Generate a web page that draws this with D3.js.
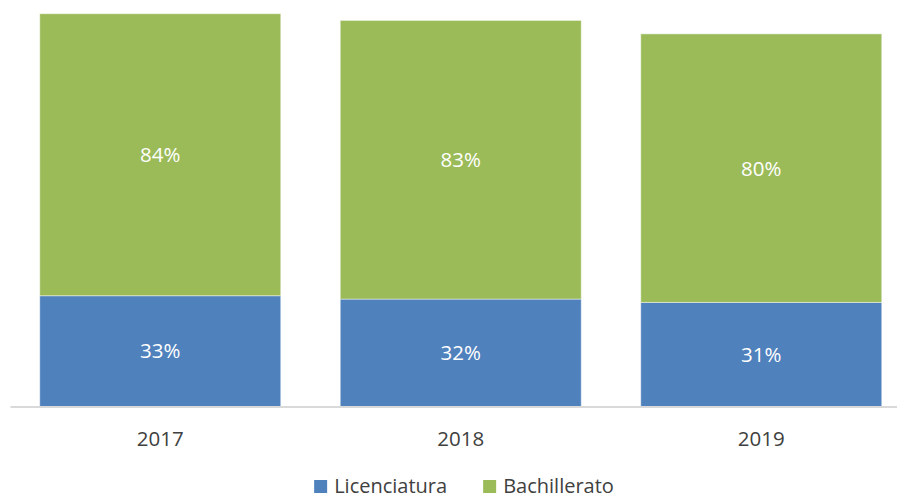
<!DOCTYPE html>
<html>
<head>
<meta charset="utf-8">
<script src="https://cdn.jsdelivr.net/npm/d3@7"></script>
<style>
    body { margin: 0; background: #fff; }
    svg { display: block; font-family: "Open Sans", "Liberation Sans", sans-serif; }
</style>
</head>
<body>
<div id="chart"></div>
<script>
// data
var years = ['2017', '2018', '2019'];
var licenciatura = [33, 32, 31];
var bachillerato = [84, 83, 80];
var seriesNames = ['Licenciatura', 'Bachillerato'];
var seriesColors = ['#4F81BD', '#9BBB59'];

var width = 897,
    height = 500,
    baseline = 406.5,
    labelSize = 20.5;

var svg = d3.select('#chart')
    .append('svg')
    .attr('width', width)
    .attr('height', height);

var x = d3.scaleBand()
    .domain(years)
    .range([10, 911.5])
    .paddingInner(0.198)
    .paddingOuter(0.099);

var y = d3.scaleLinear()
    .domain([0, 120])
    .range([baseline, baseline - 120 * 3.357]);

var rows = years.map(function (yr, i) {
    return { year: yr, Licenciatura: licenciatura[i], Bachillerato: bachillerato[i] };
});
var stacked = d3.stack().keys(seriesNames)(rows);

// bars
var layers = svg.selectAll('.layer')
    .data(stacked)
    .enter().append('g')
    .attr('class', 'layer')
    .attr('fill', function (d, i) { return seriesColors[i]; });

layers.selectAll('rect')
    .data(function (d) { return d; })
    .enter().append('rect')
    .attr('x', function (d) { return x(d.data.year); })
    .attr('y', function (d) { return y(d[1]); })
    .attr('width', x.bandwidth())
    .attr('height', function (d) { return y(d[0]) - y(d[1]); })
    .attr('stroke', 'rgba(255,255,255,0.45)')
    .attr('stroke-width', 1);

// value labels in the middle of each segment
layers.selectAll('text')
    .data(function (d) { return d; })
    .enter().append('text')
    .attr('x', function (d) { return x(d.data.year) + x.bandwidth() / 2; })
    .attr('y', function (d) { return (y(d[0]) + y(d[1])) / 2; })
    .attr('dy', '0.36em')
    .attr('text-anchor', 'middle')
    .attr('fill', '#fff')
    .attr('font-size', labelSize)
    .text(function (d) { return (d[1] - d[0]) + '%'; });

// category axis
var axis = svg.append('g')
    .attr('transform', 'translate(0,' + baseline + ')')
    .call(d3.axisBottom(x).tickSize(0).tickPadding(25));
axis.select('.domain')
    .attr('stroke', '#D9D9D9')
    .attr('stroke-width', 2);
axis.selectAll('.tick text')
    .attr('fill', '#404040')
    .attr('font-size', labelSize)
    .attr('font-family', '"Open Sans", sans-serif');

// legend
var legend = svg.append('g').attr('class', 'legend');
var items = legend.selectAll('g')
    .data(seriesNames)
    .enter().append('g');
items.append('rect')
    .attr('width', 13)
    .attr('height', 13)
    .attr('y', -13)
    .attr('fill', function (d, i) { return seriesColors[i]; });
items.append('text')
    .attr('x', 20)
    .attr('fill', '#404040')
    .attr('font-size', 20)
    .text(function (d) { return d; });

var offset = 0;
items.each(function () {
    d3.select(this).attr('transform', 'translate(' + offset + ',0)');
    offset += this.getBBox().width + 36;
});
var legendWidth = offset - 36;
legend.attr('transform', 'translate(' + (464 - legendWidth / 2) + ',493)');
</script>
</body>
</html>
